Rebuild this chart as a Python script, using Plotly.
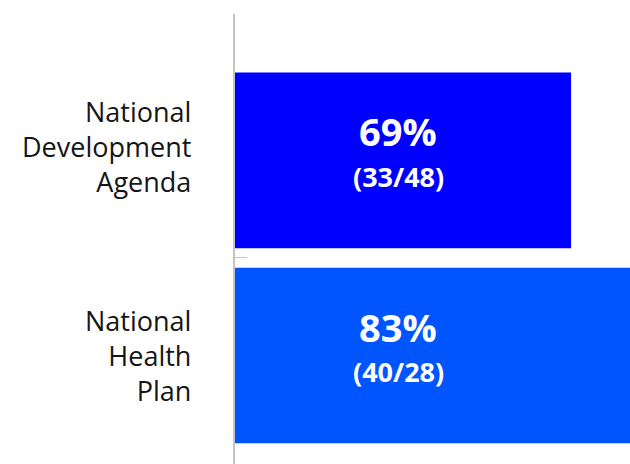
import plotly.graph_objects as go

categories = ["National<br>Development<br>Agenda", "National<br>Health<br>Plan"]
percent_values = [69, 83]
count_labels = ["(33/48)", "(40/28)"]
bar_colors = ["#0000FF", "#0055FF"]

positions = list(range(len(categories)))

fig = go.Figure()
fig.add_trace(go.Bar(
    x=percent_values,
    y=positions,
    orientation="h",
    marker=dict(color=bar_colors, line=dict(width=0)),
    width=0.9,
    hoverinfo="skip",
))

annotations = []
label_shift = [14, 0]
for i, (cat, v, c) in enumerate(zip(categories, percent_values, count_labels)):
    annotations.append(dict(
        x=0.413, xref="paper", y=i, yref="y", yshift=29,
        text=f"<b>{v}%</b>", showarrow=False,
        font=dict(family="Open Sans", size=38, color="white"),
        xanchor="center", yanchor="middle",
    ))
    annotations.append(dict(
        x=0.413, xref="paper", y=i, yref="y", yshift=-16,
        text=f"<b>{c}</b>", showarrow=False,
        font=dict(family="Open Sans", size=27, color="white"),
        xanchor="center", yanchor="middle",
    ))
    annotations.append(dict(
        x=0, xref="paper", y=i, yref="y", xshift=-42,
        yshift=label_shift[i],
        text=cat, showarrow=False, align="right",
        font=dict(family="Open Sans", size=27, color="#151515"),
        xanchor="right", yanchor="middle",
    ))

fig.update_layout(
    width=630, height=464,
    margin=dict(l=235, r=0, t=14, b=0),
    paper_bgcolor="white", plot_bgcolor="white",
    showlegend=False,
    bargap=0.1,
    annotations=annotations,
    xaxis=dict(range=[0, 81.1], showgrid=False, zeroline=False,
               showticklabels=False, ticks="", showline=False, fixedrange=True),
    yaxis=dict(range=[1.556, -0.75], showgrid=False, zeroline=False,
               showticklabels=False, ticks="",
               showline=True, linecolor="#c4c4c4", linewidth=1.5,
               minor=dict(tickvals=[0.5], ticks="inside", ticklen=12,
                          tickcolor="#c4c4c4", tickwidth=1, showgrid=False),
               fixedrange=True),
)

fig.write_html(
    "out.html",
    config={"displayModeBar": False},
    post_script="document.body.style.margin='0';document.body.style.overflow='hidden';",
)
